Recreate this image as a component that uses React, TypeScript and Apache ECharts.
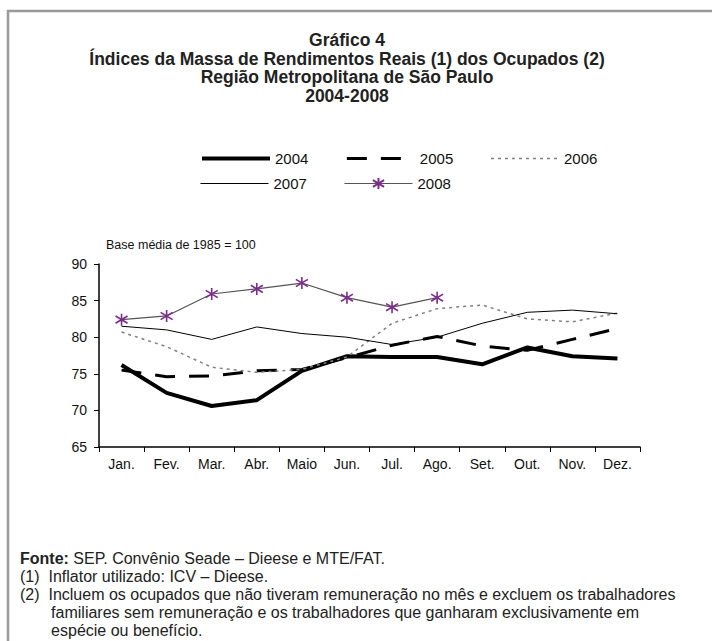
import React, { useEffect, useRef } from "react";
import * as echarts from "echarts";

const months = ["Jan.", "Fev.", "Mar.", "Abr.", "Maio", "Jun.", "Jul.", "Ago.", "Set.", "Out.", "Nov.", "Dez."];
const years = ["2004", "2005", "2006", "2007", "2008"];
const s2004 = [76.2, 72.4, 70.6, 71.4, 75.4, 77.4, 77.3, 77.3, 76.3, 78.6, 77.4, 77.1];
const s2005 = [75.5, 74.6, 74.7, 75.4, 75.6, 77.2, 78.9, 80.1, 78.8, 78.2, 79.7, 81.2];
const s2006 = [80.7, 78.7, 75.9, 75.2, 75.6, 77.3, 81.9, 83.9, 84.4, 82.5, 82.1, 83.3];
const s2007 = [81.5, 81.0, 79.7, 81.4, 80.5, 80.0, 79.0, 80.0, 81.9, 83.4, 83.7, 83.2];
const s2008 = [82.4, 82.9, 85.9, 86.6, 87.4, 85.4, 84.1, 85.4];
const yTicks = { min: 65, max: 90, interval: 5 };

const titleLines = [
  "Gráfico 4",
  "Índices da Massa de Rendimentos Reais (1) dos Ocupados (2)",
  "Região Metropolitana de São Paulo",
  "2004-2008",
];
const baseNote = "Base média de 1985 = 100";
const footLines = [
  "{b|Fonte:} SEP. Convênio Seade – Dieese e MTE/FAT.",
  "(1)  Inflator utilizado: ICV – Dieese.",
  "(2)  Incluem os ocupados que não tiveram remuneração no mês e excluem os trabalhadores",
  "       familiares sem remuneração e os trabalhadores que ganharam exclusivamente em",
  "       espécie ou benefício.",
];

const SANS = "'Liberation Sans', Arial, sans-serif";
const NARROW = "'Liberation Sans Narrow', 'Liberation Sans', Arial, sans-serif";
const STAR = "path://M10,0L10,20M1.5,4L18.5,16M18.5,4L1.5,16";

const styles: Record<string, { color: string; width: number; type?: number[] }> = {
  "2004": { color: "#000", width: 4 },
  "2005": { color: "#000", width: 3, type: [20, 14] },
  "2006": { color: "#808080", width: 1.5, type: [3, 4] },
  "2007": { color: "#000", width: 1 },
  "2008": { color: "#555", width: 1.2 },
};

export default function App() {
  const ref = useRef<HTMLDivElement>(null);
  useEffect(() => {
    if (!ref.current) return;
    const chart = echarts.init(ref.current, undefined, { renderer: "svg" });
    const lineBase = { type: "line", symbol: "none", smooth: false };
    const legendText = { fontFamily: SANS, fontSize: 15, color: "#111" };
    const legendItem = (name: string, hideSymbol: boolean) => ({
      name,
      ...(hideSymbol ? { itemStyle: { opacity: 0 } } : {}),
      lineStyle: { width: styles[name].width, color: styles[name].color, type: styles[name].type || "solid" },
    });
    const legendCommon = {
      itemWidth: 68,
      itemHeight: 14,
      itemGap: 37,
      padding: 0,
      textStyle: legendText,
    };
    const ls = (n: string) => ({ color: styles[n].color, width: styles[n].width, type: styles[n].type || "solid" });
    chart.setOption({
      animation: false,
      backgroundColor: "#fff",
      grid: { left: 99, right: 72, top: 264, bottom: 194, containLabel: false },
      legend: [
        {
          ...legendCommon,
          data: [legendItem(years[0], true), legendItem(years[1], true), legendItem(years[2], true)],
          left: 200,
          top: 151,
        },
        {
          ...legendCommon,
          data: [legendItem(years[3], true), legendItem(years[4], false)],
          left: 200,
          top: 176,
        },
      ],
      xAxis: {
        type: "category",
        data: months,
        boundaryGap: true,
        axisLine: { lineStyle: { color: "#000", width: 1.5 } },
        axisTick: { show: true, length: 5, lineStyle: { color: "#000" } },
        axisLabel: { fontFamily: SANS, fontSize: 14, color: "#111", margin: 10 },
      },
      yAxis: {
        type: "value",
        min: yTicks.min,
        max: yTicks.max,
        interval: yTicks.interval,
        axisLine: { show: true, lineStyle: { color: "#000", width: 1.5 } },
        axisTick: { show: true, length: 5, lineStyle: { color: "#000" } },
        axisLabel: { fontFamily: SANS, fontSize: 14, color: "#111", margin: 12 },
        splitLine: { show: false },
      },
      series: [
        { ...lineBase, name: "2004", data: s2004, color: "#000", lineStyle: ls("2004") },
        { ...lineBase, name: "2005", data: s2005, color: "#000", lineStyle: ls("2005") },
        { ...lineBase, name: "2006", data: s2006, color: "#808080", lineStyle: ls("2006") },
        { ...lineBase, name: "2007", data: s2007, color: "#000", lineStyle: ls("2007") },
        {
          type: "line",
          name: "2008",
          data: s2008,
          symbol: STAR,
          symbolSize: 12,
          color: "#7b2c8a",
          itemStyle: { color: "#7b2c8a", borderColor: "#7b2c8a", borderWidth: 1.6 },
          lineStyle: ls("2008"),
        },
      ],
      graphic: [
        { type: "line", shape: { x1: 7, y1: 11, x2: 712, y2: 11 }, style: { stroke: "#999", lineWidth: 2.5 } },
        { type: "line", shape: { x1: 8, y1: 10, x2: 8, y2: 641 }, style: { stroke: "#999", lineWidth: 2.5 } },
        {
          type: "text",
          x: 347,
          y: 31,
          style: {
            text: titleLines.join("\n"),
            textAlign: "center",
            font: `bold 17.5px ${NARROW}`,
            lineHeight: 18.5,
            fill: "#222",
          },
        },
        {
          type: "text",
          x: 106,
          y: 238,
          style: { text: baseNote, font: `12.5px ${SANS}`, fill: "#111" },
        },
        {
          type: "text",
          x: 20,
          y: 549,
          style: {
            text: footLines.join("\n"),
            font: `16px ${NARROW}`,
            lineHeight: 18,
            fill: "#222",
            rich: {
              b: { fontWeight: "bold", fontFamily: NARROW, fontSize: 16, fill: "#222" },
            },
          },
        },
      ],
    });
    return () => chart.dispose();
  }, []);
  return <div ref={ref} style={{ position: "fixed", left: 0, top: 0, width: 712, height: 641 }} />;
}
